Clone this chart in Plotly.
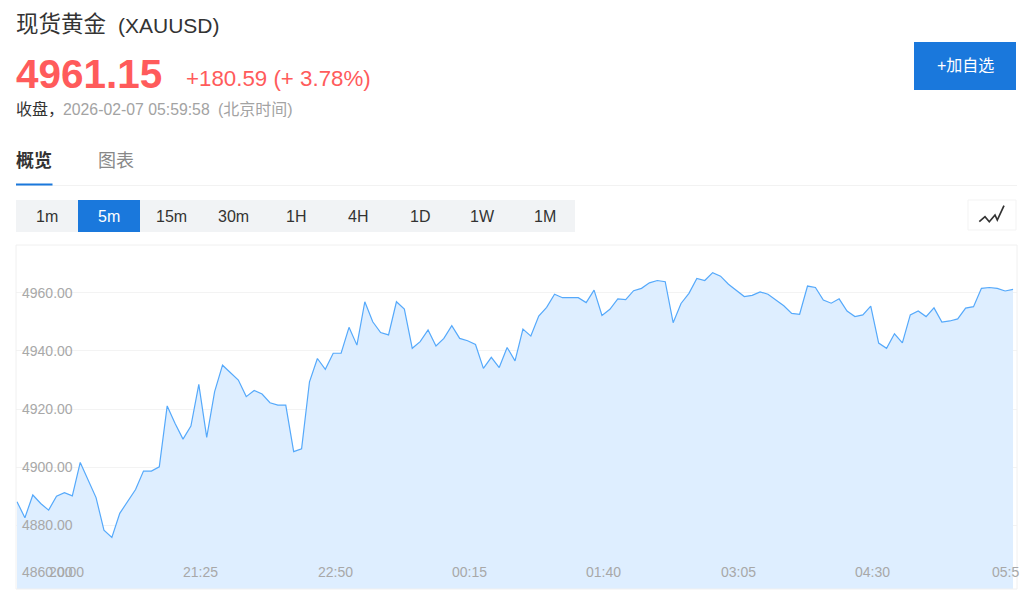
import plotly.graph_objects as go

W, H = 1024, 597
prices = [4888.2,4882.7,4890.5,4887.6,4885.3,4890.1,4891.3,4890.2,4901.7,4895.9,4889.6,4878.4,4875.9,4884.2,4888.5,4892.4,4898.7,4898.7,4900.2,4921.1,
4915.1,4909.7,4914.2,4928.5,4910.3,4926.0,4935.1,4932.5,4930.0,4924.3,4926.4,4925.2,4922.2,4921.4,4921.4,4905.4,4906.4,4929.4,4937.4,4933.7,
4939.2,4939.2,4948.1,4942.0,4956.9,4950.0,4946.3,4945.5,4956.9,4954.4,4940.9,4943.2,4947.2,4941.7,4944.3,4948.7,4944.3,4943.5,4942.2,4934.0,
4937.8,4934.3,4941.2,4936.6,4947.5,4945.1,4952.0,4955.0,4959.5,4958.3,4958.3,4958.3,4956.6,4960.9,4952.2,4954.3,4957.9,4957.6,4960.7,4961.5,
4963.4,4964.2,4963.8,4949.7,4956.3,4959.8,4964.9,4964.2,4966.9,4965.7,4962.9,4960.7,4958.7,4959.1,4960.3,4959.5,4957.6,4955.5,4952.9,4952.6,
4962.3,4961.8,4957.5,4956.4,4957.9,4953.7,4951.8,4952.4,4955.4,4942.7,4940.9,4945.9,4942.8,4952.4,4953.7,4951.8,4954.8,4949.9,4950.3,4951.0,
4954.7,4955.2,4961.5,4961.8,4961.5,4960.6,4961.15]
x_ticks = ["20:00","21:25","22:50","00:15","01:40","03:05","04:30"]
x_tick_pos = [6.25,23.25,40.25,57.25,74.25,91.25,108.25]
y_ticks = [4880,4900,4920,4940,4960]
intervals = ["1m","5m","15m","30m","1H","4H","1D","1W","1M"]

FONT = "Liberation Sans, Noto Sans CJK SC, sans-serif"
BLUE = "#1a78dc"
RED = "#ff5b5b"
AXIS_GREY = "#a8a8a8"

def px(x): return x / W
def py(y): return 1 - y / H

fig = go.Figure(go.Scatter(
    x=list(range(len(prices))), y=prices, mode="lines",
    line=dict(color="#55a9fb", width=1.2), fill="tozeroy", fillcolor="#deeeff",
    hoverinfo="skip"))

shapes, ann = [], []
def rect(x0, y0, x1, y1, fill, line=None, lw=1):
    shapes.append(dict(type="rect", xref="paper", yref="paper", x0=px(x0), x1=px(x1), y0=py(y0), y1=py(y1),
                       fillcolor=fill, line=dict(color=line or fill, width=lw if line else 0), layer="above"))
def text(x, y, s, size, color, anchor="left"):
    ann.append(dict(xref="paper", yref="paper", x=px(x), y=py(y), text=s, showarrow=False, xanchor=anchor,
                    yanchor="middle", xshift=-2 if anchor == "left" else 0,
                    font=dict(family=FONT, size=size, color=color)))

text(16, 25, "现货黄金", 22.5, "#333333")
text(118, 25.5, "(XAUUSD)", 21, "#333333")
text(16, 74, "<b>4961.15</b>", 40.5, RED)
text(186, 79, "+180.59 (+ 3.78%)", 22.3, RED)
text(16, 109, "收盘，", 16, "#333333")
text(63, 110, "2026-02-07 05:59:58", 15.8, "#a3a3a3")
text(218, 110, "(北京时间)", 16, "#a3a3a3")
text(16, 161, "<b>概览</b>", 18, "#333333")
text(98, 161, "图表", 18, "#888888")
rect(16, 185, 1017, 186, "#f2f2f2")
rect(16, 183.5, 52.5, 185.5, BLUE)
rect(914, 42, 1016, 90, BLUE)
text(965, 65, "+加自选", 16, "#ffffff", "center")
rect(16, 200, 575, 232, "#f1f3f5")
for i, s in enumerate(intervals):
    cx = 47 + 62.2 * i
    if i == 1:
        rect(78, 200, 140, 232, BLUE)
    text(cx, 216, s, 16, "#ffffff" if i == 1 else "#333333", "center")
rect(968, 200, 1016, 230, "#ffffff", "#f3f3f3")
icon = [(979.3,221.7),(985,216.7),(989.3,221.7),(995,215),(997.3,220),(1004,205.7)]
shapes.append(dict(type="path", xref="paper", yref="paper",
    path="M " + " L ".join(f"{px(a):.5f},{py(b):.5f}" for a, b in icon),
    line=dict(color="#333333", width=1.7), layer="above"))
text(22, 572, "4860.00", 14, AXIS_GREY)
for pos, s in zip(x_tick_pos, x_ticks):
    ann.append(dict(xref="x", yref="paper", x=pos, y=py(572), text=s, showarrow=False, xanchor="center",
                    yanchor="middle", font=dict(family=FONT, size=14, color=AXIS_GREY)))
text(992, 572, "05:5", 14, AXIS_GREY)

shapes.append(dict(type="rect", xref="paper", yref="paper", x0=px(16), x1=px(1017), y0=py(589), y1=py(245),
                   line=dict(color="#f0f0f0", width=1), layer="above"))

fig.update_layout(
    width=W, height=H, autosize=False, margin=dict(l=0, r=0, t=0, b=0),
    paper_bgcolor="#ffffff", plot_bgcolor="#ffffff", showlegend=False,
    shapes=shapes, annotations=ann,
    xaxis=dict(domain=[px(16), px(1017)], range=[-0.126, 126.5], showgrid=False, zeroline=False, showline=False,
               showticklabels=False, ticks=""),
    yaxis=dict(domain=[py(589), py(245)], range=[4858.2, 4976.4], showgrid=True, gridcolor="#f3f3f3", gridwidth=1,
               zeroline=False, showline=False, tickmode="array", tickvals=y_ticks,
               ticktext=[f"{v}.00" for v in y_ticks], ticks="", ticklabelposition="inside",
               ticklabelstandoff=3, tickfont=dict(family=FONT, size=14, color=AXIS_GREY)),
)
fig.write_html("out.html", config=dict(displayModeBar=False, staticPlot=True),
               post_script="document.body.style.margin='0';document.body.style.overflow='hidden';")
